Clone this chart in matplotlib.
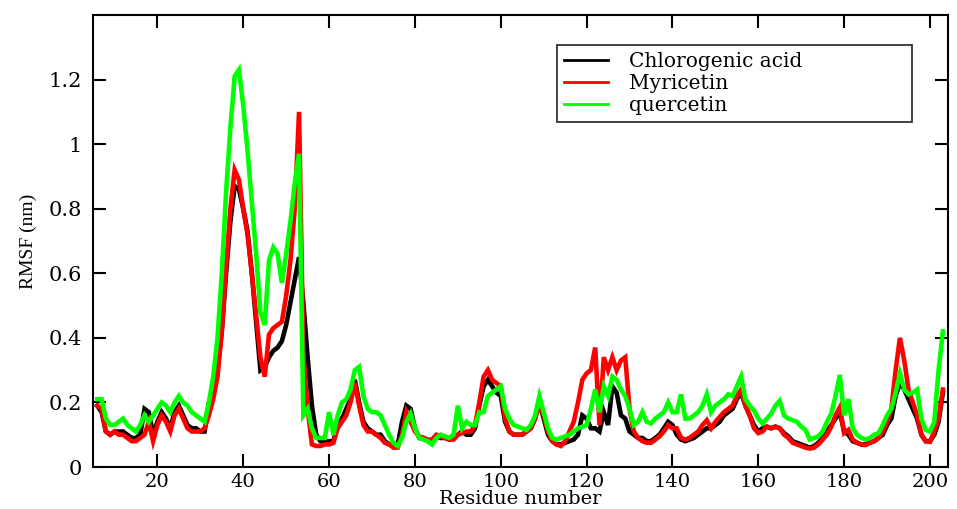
import numpy as np
import matplotlib
matplotlib.use("Agg")
import matplotlib.pyplot as plt

residues = np.arange(6, 204)

chlorogenic = [
    0.19, 0.17, 0.11, 0.10, 0.11, 0.11, 0.11, 0.10, 0.09, 0.09,
    0.10, 0.18, 0.17, 0.10, 0.14, 0.17, 0.15, 0.12, 0.17, 0.19,
    0.16, 0.13, 0.12, 0.12, 0.11, 0.11, 0.20, 0.23, 0.30, 0.42,
    0.60, 0.76, 0.87, 0.86, 0.80, 0.73, 0.60, 0.45, 0.30, 0.31,
    0.34, 0.36, 0.37, 0.39, 0.44, 0.51, 0.58, 0.65, 0.51, 0.34,
    0.19, 0.10, 0.08, 0.08, 0.08, 0.08, 0.13, 0.15, 0.18, 0.21,
    0.27, 0.20, 0.14, 0.12, 0.11, 0.10, 0.10, 0.08, 0.07, 0.07,
    0.07, 0.14, 0.19, 0.18, 0.12, 0.09, 0.09, 0.08, 0.08, 0.095,
    0.09, 0.09, 0.085, 0.09, 0.10, 0.11, 0.10, 0.10, 0.12, 0.19,
    0.25, 0.27, 0.25, 0.23, 0.22, 0.14, 0.11, 0.10, 0.10, 0.10,
    0.11, 0.12, 0.15, 0.20, 0.15, 0.10, 0.08, 0.07, 0.07, 0.075,
    0.08, 0.085, 0.10, 0.16, 0.15, 0.12, 0.12, 0.11, 0.17, 0.13,
    0.25, 0.23, 0.16, 0.15, 0.11, 0.10, 0.09, 0.09, 0.08, 0.08,
    0.09, 0.10, 0.12, 0.14, 0.13, 0.10, 0.085, 0.08, 0.085, 0.09,
    0.10, 0.11, 0.12, 0.12, 0.13, 0.14, 0.16, 0.17, 0.18, 0.21,
    0.23, 0.19, 0.16, 0.13, 0.11, 0.12, 0.125, 0.12, 0.125, 0.12,
    0.105, 0.095, 0.08, 0.075, 0.07, 0.065, 0.06, 0.065, 0.075, 0.09,
    0.11, 0.13, 0.15, 0.17, 0.11, 0.10, 0.08, 0.075, 0.07, 0.07,
    0.075, 0.08, 0.09, 0.10, 0.13, 0.15, 0.22, 0.26, 0.24, 0.21,
    0.18, 0.15, 0.10, 0.08, 0.08, 0.10, 0.14, 0.23,
]

myricetin = [
    0.19, 0.18, 0.11, 0.10, 0.11, 0.10, 0.10, 0.09, 0.08, 0.08,
    0.09, 0.10, 0.14, 0.08, 0.13, 0.16, 0.14, 0.11, 0.16, 0.18,
    0.15, 0.12, 0.11, 0.11, 0.11, 0.12, 0.16, 0.21, 0.28, 0.42,
    0.62, 0.80, 0.92, 0.89, 0.80, 0.72, 0.60, 0.47, 0.34, 0.28,
    0.41, 0.43, 0.44, 0.45, 0.53, 0.64, 0.80, 1.10, 0.35, 0.18,
    0.07, 0.065, 0.065, 0.07, 0.07, 0.075, 0.12, 0.14, 0.16, 0.20,
    0.26, 0.19, 0.13, 0.11, 0.11, 0.10, 0.09, 0.075, 0.07, 0.06,
    0.06, 0.10, 0.17, 0.14, 0.11, 0.095, 0.09, 0.085, 0.085, 0.10,
    0.095, 0.09, 0.085, 0.085, 0.10, 0.105, 0.11, 0.11, 0.13, 0.20,
    0.28, 0.30, 0.27, 0.26, 0.25, 0.15, 0.11, 0.10, 0.10, 0.10,
    0.11, 0.12, 0.15, 0.20, 0.16, 0.11, 0.08, 0.07, 0.065, 0.08,
    0.11, 0.14, 0.20, 0.27, 0.29, 0.30, 0.37, 0.13, 0.34, 0.30,
    0.34, 0.30, 0.33, 0.34, 0.18, 0.11, 0.09, 0.08, 0.075, 0.075,
    0.085, 0.095, 0.11, 0.13, 0.12, 0.12, 0.09, 0.085, 0.09, 0.10,
    0.11, 0.13, 0.145, 0.12, 0.14, 0.155, 0.17, 0.18, 0.19, 0.22,
    0.24, 0.19, 0.16, 0.12, 0.105, 0.11, 0.125, 0.12, 0.125, 0.12,
    0.10, 0.09, 0.075, 0.07, 0.065, 0.06, 0.057, 0.06, 0.07, 0.085,
    0.10, 0.125, 0.16, 0.185, 0.105, 0.115, 0.085, 0.075, 0.07, 0.068,
    0.075, 0.08, 0.09, 0.11, 0.14, 0.18, 0.30, 0.40, 0.33, 0.24,
    0.20, 0.16, 0.10, 0.08, 0.078, 0.11, 0.15, 0.24,
]

quercetin = [
    0.21, 0.21, 0.15, 0.13, 0.13, 0.14, 0.15, 0.13, 0.12, 0.11,
    0.13, 0.16, 0.14, 0.16, 0.18, 0.20, 0.19, 0.17, 0.20, 0.22,
    0.20, 0.19, 0.17, 0.16, 0.15, 0.14, 0.20, 0.28, 0.40, 0.60,
    0.85, 1.05, 1.21, 1.23, 1.12, 0.98, 0.82, 0.66, 0.48, 0.44,
    0.64, 0.68, 0.66, 0.57, 0.66, 0.76, 0.88, 0.97, 0.16, 0.18,
    0.12, 0.09, 0.09, 0.09, 0.17, 0.10, 0.16, 0.20, 0.21, 0.24,
    0.30, 0.31, 0.22, 0.18, 0.17, 0.17, 0.16, 0.13, 0.10, 0.075,
    0.065, 0.09, 0.14, 0.165, 0.12, 0.09, 0.085, 0.08, 0.07, 0.09,
    0.10, 0.095, 0.09, 0.10, 0.19, 0.12, 0.14, 0.13, 0.13, 0.17,
    0.17, 0.22, 0.23, 0.24, 0.25, 0.18, 0.15, 0.13, 0.125, 0.12,
    0.115, 0.13, 0.16, 0.22, 0.17, 0.12, 0.09, 0.085, 0.09, 0.095,
    0.10, 0.11, 0.12, 0.125, 0.13, 0.18, 0.24, 0.17, 0.25, 0.22,
    0.28, 0.27, 0.24, 0.22, 0.18, 0.13, 0.14, 0.17, 0.14, 0.135,
    0.15, 0.16, 0.17, 0.20, 0.17, 0.17, 0.225, 0.15, 0.15, 0.16,
    0.17, 0.19, 0.225, 0.17, 0.19, 0.20, 0.21, 0.225, 0.22, 0.25,
    0.28, 0.21, 0.19, 0.175, 0.15, 0.135, 0.15, 0.165, 0.19, 0.205,
    0.16, 0.15, 0.145, 0.14, 0.125, 0.115, 0.085, 0.09, 0.095, 0.11,
    0.14, 0.165, 0.22, 0.285, 0.16, 0.21, 0.12, 0.10, 0.09, 0.085,
    0.09, 0.10, 0.105, 0.13, 0.16, 0.18, 0.23, 0.29, 0.24, 0.225,
    0.23, 0.24, 0.15, 0.115, 0.11, 0.14, 0.30, 0.42,
]

series = [
    ("Chlorogenic acid", chlorogenic, "#000000"),
    ("Myricetin", myricetin, "#ff0000"),
    ("quercetin", quercetin, "#00ff00"),
]

x_ticks = list(range(20, 201, 20))
y_ticks = [0, 0.2, 0.4, 0.6, 0.8, 1.0, 1.2]
y_tick_labels = ["0", "0.2", "0.4", "0.6", "0.8", "1", "1.2"]

fig = plt.figure(figsize=(9.57, 5.09), dpi=100)
ax = fig.add_axes([0.0972, 0.0825, 0.8934, 0.888])

for name, vals, color in series:
    ax.plot(residues, vals, color=color, lw=3.3, label=name,
            solid_joinstyle="miter")

ax.set_xlim(5, 204.2)
ax.set_ylim(0, 1.4)
ax.set_xticks(x_ticks)
ax.set_yticks(y_ticks)
ax.set_yticklabels(y_tick_labels)
ax.tick_params(direction="in", length=9.5, width=1.5, top=True, right=True)
ax.tick_params(axis="x", pad=4, labelsize=14)
ax.tick_params(axis="y", pad=8, labelsize=15)
for lab in ax.get_xticklabels() + ax.get_yticklabels():
    lab.set_family("DejaVu Serif")
for sp in ax.spines.values():
    sp.set_linewidth(1.5)

ax.set_xlabel("Residue number", family="DejaVu Serif", fontsize=14)
ax.xaxis.set_label_coords(0.5, -0.05)
ax.xaxis.label.set_va("top")
ax.set_ylabel("RMSF (nm)", family="Liberation Serif", fontsize=14, labelpad=8)

leg = ax.legend(loc="upper left", mode="expand",
                bbox_to_anchor=(0.5427, 0.763, 0.415, 0.1706),
                bbox_transform=ax.transAxes,
                prop={"family": "DejaVu Serif", "size": 14.5},
                frameon=True, fancybox=False, edgecolor="black",
                handlelength=2.2, handletextpad=1.0, labelspacing=0.15,
                borderpad=0.35, borderaxespad=0)
leg.get_frame().set_linewidth(1.3)
for h in leg.get_lines():
    h.set_linewidth(2.0)

fig.savefig("out.png", dpi=100)
